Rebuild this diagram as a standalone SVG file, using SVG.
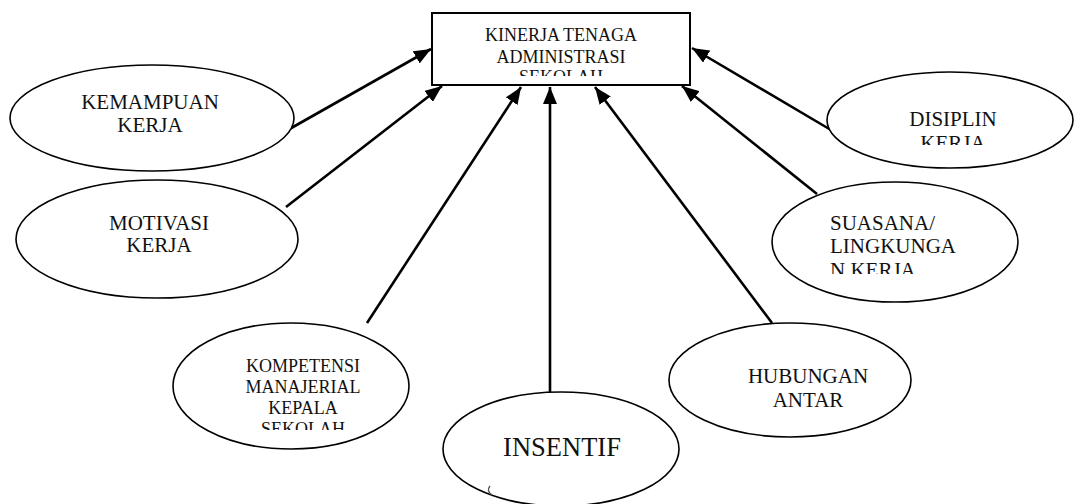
<svg xmlns="http://www.w3.org/2000/svg" width="1075" height="504" viewBox="0 0 1075 504">
<style>
.node{fill:#fff;stroke:#000;stroke-width:1.6}
.box{fill:#fff;stroke:#000;stroke-width:2}
.t{font-family:"Liberation Serif","Times New Roman",serif;fill:#111;text-anchor:middle}
.tl{font-family:"Liberation Serif","Times New Roman",serif;fill:#111;text-anchor:start}
.c{stroke:#000;stroke-width:2.6;fill:none;marker-end:url(#ah)}
</style>
<defs>
<marker id="ah" markerUnits="userSpaceOnUse" markerWidth="18" markerHeight="14" refX="17" refY="7" orient="auto">
<path d="M0,0 L17,7 L0,14 z" fill="#000"/>
</marker>
<clipPath id="cpBox"><rect x="432" y="13" width="258" height="63"/></clipPath>
<clipPath id="cpDis"><rect x="827" y="73" width="246" height="72"/></clipPath>
<clipPath id="cpSua"><rect x="772" y="182" width="246" height="92"/></clipPath>
<clipPath id="cpKom"><rect x="173" y="323" width="237" height="107"/></clipPath>
</defs>
<rect width="1075" height="504" fill="#fff"/>
<g id="connectors">
<line class="c" x1="286" y1="131" x2="431" y2="49"/>
<line class="c" x1="286" y1="207" x2="442" y2="86"/>
<line class="c" x1="367" y1="323" x2="521" y2="87"/>
<line class="c" x1="550" y1="392" x2="550" y2="87"/>
<line class="c" x1="772" y1="323" x2="595" y2="87"/>
<line class="c" x1="817" y1="194" x2="682" y2="86"/>
<line class="c" x1="831" y1="130" x2="692" y2="48"/>
</g>
<g id="kinerja">
<rect class="box" x="432" y="13" width="258" height="72"/>
<g clip-path="url(#cpBox)">
<text class="t" x="561" y="41" font-size="18">KINERJA TENAGA</text>
<text class="t" x="561" y="63" font-size="18">ADMINISTRASI</text>
<text class="t" x="561" y="83" font-size="18">SEKOLAH</text>
</g>
</g>
<g id="kemampuan">
<ellipse class="node" cx="152" cy="118" rx="142" ry="53"/>
<text class="t" x="150" y="109" font-size="21">KEMAMPUAN</text>
<text class="t" x="150" y="132" font-size="21">KERJA</text>
</g>
<g id="motivasi">
<ellipse class="node" cx="157" cy="239" rx="141" ry="59"/>
<text class="t" x="159" y="230" font-size="21">MOTIVASI</text>
<text class="t" x="159" y="252" font-size="21">KERJA</text>
</g>
<g id="kompetensi">
<ellipse class="node" cx="291" cy="386" rx="118" ry="63"/>
<g clip-path="url(#cpKom)">
<text class="t" x="303" y="372" font-size="18">KOMPETENSI</text>
<text class="t" x="303" y="393" font-size="18">MANAJERIAL</text>
<text class="t" x="303" y="414" font-size="18">KEPALA</text>
<text class="t" x="303" y="435" font-size="18">SEKOLAH</text>
</g>
</g>
<g id="insentif">
<ellipse class="node" cx="561" cy="449" rx="118" ry="57"/>
<text class="t" x="562" y="456" font-size="26.5">INSENTIF</text>
<path d="M490,486 q-4,5 2,9" fill="none" stroke="#555" stroke-width="1.4"/>
</g>
<g id="hubungan">
<ellipse class="node" cx="790" cy="380" rx="121" ry="57"/>
<text class="t" x="808" y="383" font-size="21">HUBUNGAN</text>
<text class="t" x="808" y="407" font-size="21">ANTAR</text>
</g>
<g id="suasana">
<ellipse class="node" cx="895" cy="242" rx="123" ry="60"/>
<g clip-path="url(#cpSua)">
<text class="tl" x="830" y="230" font-size="21">SUASANA/</text>
<text class="tl" x="830" y="253" font-size="21">LINGKUNGA</text>
<text class="tl" x="830" y="277" font-size="21">N KERJA</text>
</g>
</g>
<g id="disiplin">
<ellipse class="node" cx="950" cy="120" rx="123" ry="48"/>
<g clip-path="url(#cpDis)">
<text class="t" x="953" y="126" font-size="21">DISIPLIN</text>
<text class="t" x="953" y="150" font-size="21">KERJA</text>
</g>
</g>
</svg>
